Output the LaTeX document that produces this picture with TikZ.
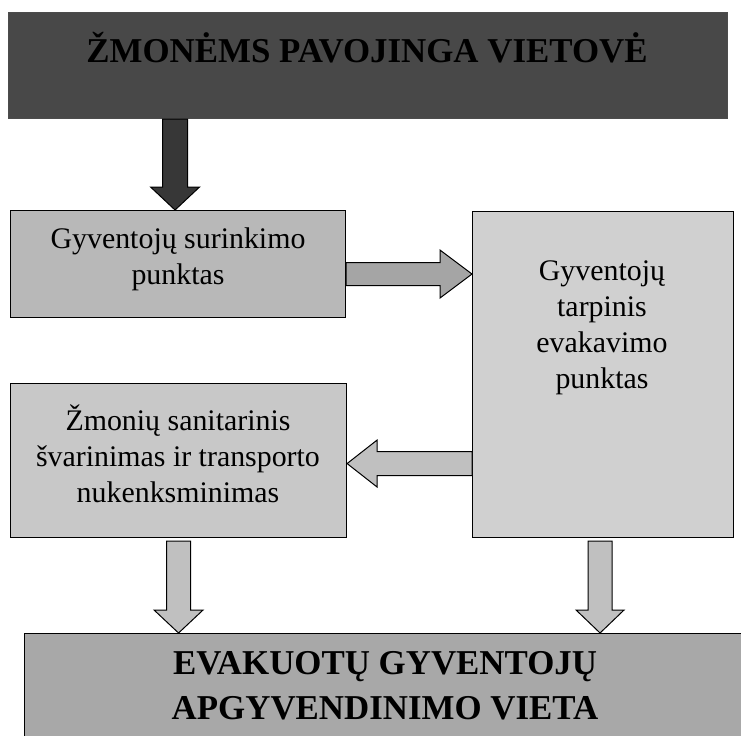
\documentclass[tikz,border=0pt]{standalone}
\usepackage{fontspec}
\setmainfont{Liberation Serif}
\usetikzlibrary{calc}
\definecolor{topgray}{RGB}{72,72,72}
\definecolor{arrdark}{RGB}{55,55,55}
\definecolor{gone}{RGB}{184,184,184}
\definecolor{gtarp}{RGB}{208,208,208}
\definecolor{gtwo}{RGB}{200,200,200}
\definecolor{gbot}{RGB}{168,168,168}
\definecolor{garr}{RGB}{165,165,165}
\definecolor{garrl}{RGB}{192,192,192}
\newcommand{\varrowblk}[6]{%
  \draw[#1] let \p1=(#2), \p2=(#3) in
    ({\x1-#4},\y1) -- ({\x1+#4},\y1) -- ({\x1+#4},{\y2+#6}) -- ({\x1+#5},{\y2+#6}) --
    (\x2,\y2) -- ({\x1-#5},{\y2+#6}) -- ({\x1-#4},{\y2+#6}) -- cycle;}
\newcommand{\harrowblk}[6]{%
  \draw[#1] let \p1=(#2), \p2=(#3) in
    (\x1,{\y1-#4}) -- (\x1,{\y1+#4}) -- ({\x2+#6},{\y1+#4}) -- ({\x2+#6},{\y1+#5}) --
    (\x2,\y2) -- ({\x2+#6},{\y1-#5}) -- ({\x2+#6},{\y1-#4}) -- cycle;}
\begin{document}
\begin{tikzpicture}[x=1bp,y=-1bp,
  box/.style={draw=black, line width=1.1bp, inner sep=0pt, anchor=north west, align=center},
  bodytext/.style={font=\fontsize{30}{36}\selectfont, align=center, inner sep=0pt},
  bigtext/.style={font=\fontsize{35}{45}\selectfont\bfseries, align=center, inner sep=0pt},
  arrowbox/.style={draw=black, line width=1bp, line join=miter}]
\useasboundingbox (0,0) rectangle (741,736);
% boxes
\node[box, fill=topgray, draw=black!70, minimum width=719bp, minimum height=106bp] (top) at (8,12) {};
\node[bigtext] (toptxt) at (367,48) {ŽMONĖMS PAVOJINGA VIETOVĖ};
\node[box, fill=gone, minimum width=335bp, minimum height=107bp] (box1) at (10,210) {};
\node[bodytext] (box1txt) at (178,259) {Gyventojų surinkimo\\punktas};
\node[box, fill=gtarp, minimum width=261bp, minimum height=326bp] (tarp) at (472,211) {};
\node[bodytext] (tarptxt) at (602,328) {Gyventojų\\tarpinis\\evakavimo\\punktas};
\node[box, fill=gtwo, minimum width=336bp, minimum height=154bp] (box2) at (10,383) {};
\node[bodytext] (box2txt) at (178,454) {Žmonių sanitarinis\\švarinimas ir transporto\\nukenksminimas};
\node[box, fill=gbot, minimum width=730bp, minimum height=120bp] (bot) at (24,633) {};
\node[bigtext] (bottxt) at (385,686) {EVAKUOTŲ GYVENTOJŲ\\APGYVENDINIMO VIETA};
% connector coordinates
\coordinate (a1e) at ([xshift=-3bp]box1.north);
\coordinate (a1s) at (a1e |- top.south);
\coordinate (a2s) at ([yshift=-10bp]box1.east);
\coordinate (a2e) at (a2s -| tarp.west);
\coordinate (a3e) at ([yshift=-3bp]box2.east);
\coordinate (a3s) at (a3e -| tarp.west);
\coordinate (a4s) at ([yshift=-3bp]box2.south);
\coordinate (a4e) at (a4s |- bot.north);
\coordinate (a5s) at ([xshift=-3bp,yshift=-3bp]tarp.south);
\coordinate (a5e) at (a5s |- bot.north);
% block arrows
\varrowblk{arrowbox, fill=arrdark}{a1s}{a1e}{12.5bp}{24.5bp}{23bp}
\harrowblk{arrowbox, fill=garr}{a2s}{a2e}{11.5bp}{24bp}{-32bp}
\harrowblk{arrowbox, fill=garrl}{a3s}{a3e}{12bp}{23.5bp}{30bp}
\varrowblk{arrowbox, fill=garrl}{a4s}{a4e}{12bp}{24.5bp}{23bp}
\varrowblk{arrowbox, fill=garrl}{a5s}{a5e}{12bp}{24bp}{23bp}
\end{tikzpicture}
\end{document}
